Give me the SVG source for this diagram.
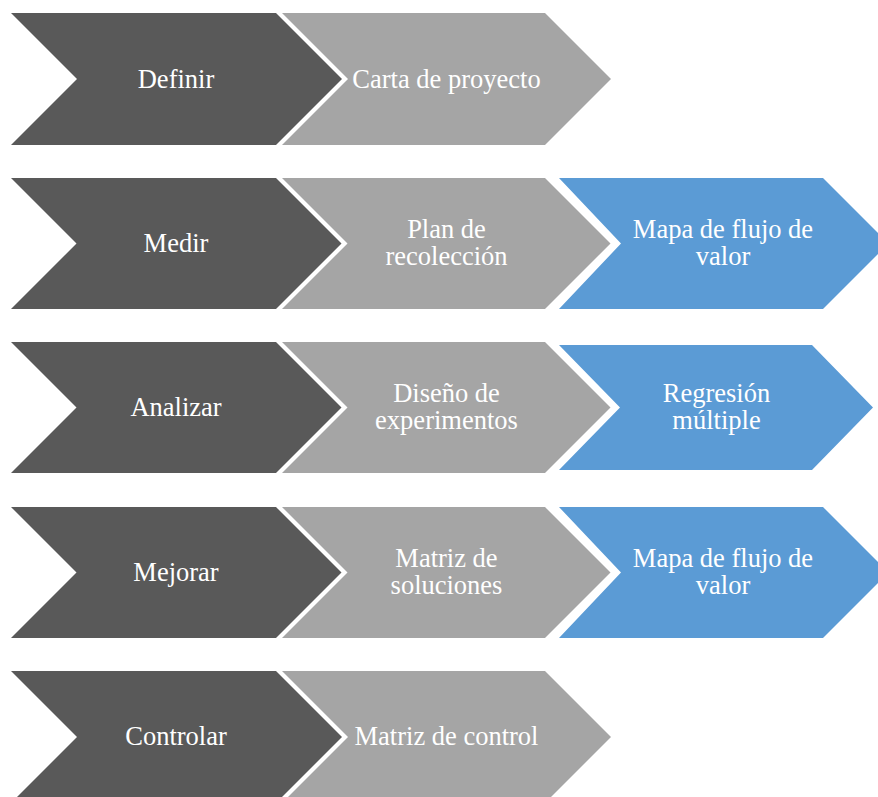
<svg xmlns="http://www.w3.org/2000/svg" width="878" height="797" viewBox="0 0 878 797">
<style>
.dark{fill:#595959}
.grey{fill:#A5A5A5}
.blue{fill:#5B9BD5}
text{font-family:"Liberation Serif","Times New Roman",serif;font-size:26.5px;fill:#FFFFFF;text-anchor:middle}
</style>
<rect width="878" height="797" fill="#FFFFFF"/>
<g id="row1">
<g id="definir"><polygon class="dark" points="11,13 276,13 342,79 276,145 11,145 77,79"/><text x="176" y="87.5">Definir</text></g>
<g id="carta"><polygon class="grey" points="282,13 545,13 611,79 545,145 282,145 348,79"/><text x="446.5" y="87.5">Carta de proyecto</text></g>
</g>
<g id="row2">
<g id="medir"><polygon class="dark" points="11,178 276,178 341.5,243.5 276,309 11,309 76.5,243.5"/><text x="176" y="252">Medir</text></g>
<g id="plan"><polygon class="grey" points="282,178 545,178 610.5,243.5 545,309 282,309 347.5,243.5"/><text x="446.5" y="237.5">Plan de</text><text x="446.5" y="265">recolección</text></g>
<g id="mapa1"><polygon class="blue" points="559,178 823,178 888.5,243.5 823,309 559,309 621,243.5"/><text x="723" y="237.5">Mapa de flujo de</text><text x="723" y="265">valor</text></g>
</g>
<g id="row3">
<g id="analizar"><polygon class="dark" points="11,342 276,342 341.5,407.5 276,473 11,473 76.5,407.5"/><text x="176" y="416">Analizar</text></g>
<g id="diseno"><polygon class="grey" points="282,342 545,342 610.5,407.5 545,473 282,473 347.5,407.5"/><text x="446.5" y="401.5">Diseño de</text><text x="446.5" y="429">experimentos</text></g>
<g id="regresion"><polygon class="blue" points="559,345 812,345 873,407.5 812,470 559,470 620,407.5"/><text x="716.5" y="401.5">Regresión</text><text x="716.5" y="429">múltiple</text></g>
</g>
<g id="row4">
<g id="mejorar"><polygon class="dark" points="11,507 276,507 341.5,572.5 276,638 11,638 76.5,572.5"/><text x="176" y="581">Mejorar</text></g>
<g id="matriz_sol"><polygon class="grey" points="282,507 545,507 610.5,572.5 545,638 282,638 347.5,572.5"/><text x="446.5" y="566.5">Matriz de</text><text x="446.5" y="594">soluciones</text></g>
<g id="mapa2"><polygon class="blue" points="559,507 823,507 888.5,572.5 823,638 559,638 621,572.5"/><text x="723" y="566.5">Mapa de flujo de</text><text x="723" y="594">valor</text></g>
</g>
<g id="row5">
<g id="controlar"><polygon class="dark" points="11,671 276,671 342,737 276,803 11,803 77,737"/><text x="176" y="745">Controlar</text></g>
<g id="matriz_ctrl"><polygon class="grey" points="282,671 545,671 611,737 545,803 282,803 348,737"/><text x="446.5" y="745">Matriz de control</text></g>
</g>
<g id="connectors"></g>
</svg>
